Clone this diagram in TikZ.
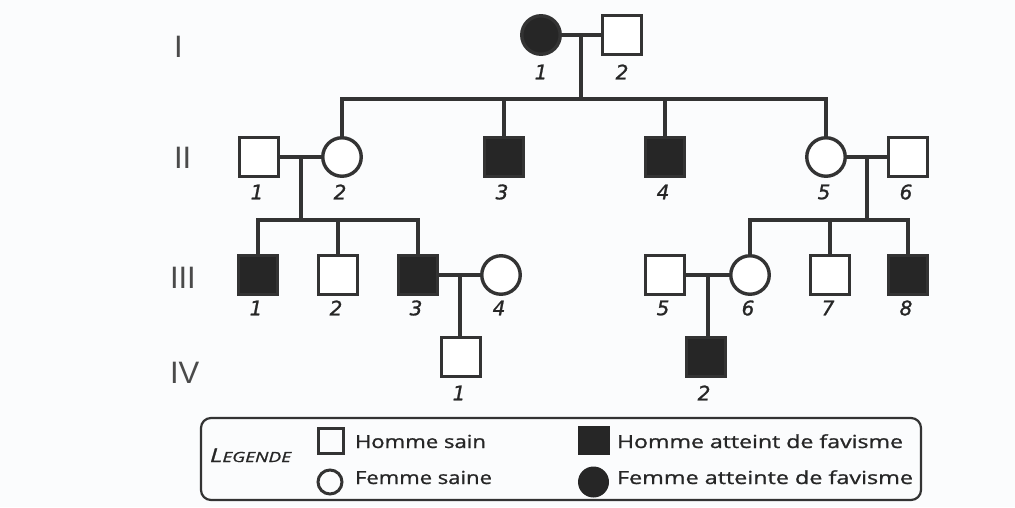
\documentclass[tikz,border=0pt]{standalone}
\usepackage{fontspec}
\usepackage{graphicx}
\newfontfamily\numfont{DejaVu Sans}[FakeBold=1.2]
\newfontfamily\genfont{Liberation Sans}
\newfontfamily\legfont{Open Sans}[FakeBold=1.0]
\usetikzlibrary{calc}
\definecolor{ink}{HTML}{333333}
\definecolor{dark}{HTML}{262626}
\definecolor{bg}{HTML}{FBFCFD}
\definecolor{gen}{HTML}{4A4A4A}
\begin{document}
\begin{tikzpicture}[x=1pt,y=-1pt,
  every node/.style={inner sep=0pt, outer sep=0pt},
  link/.style={draw=ink, line width=3.6pt, line join=miter},
  male/.style={rectangle, draw=ink, line width=3.4pt, minimum size=39.5pt, fill=white},
  female/.style={circle, draw=ink, line width=3.4pt, minimum size=38.5pt, fill=white},
  affected/.style={fill=dark},
  num/.style={font=\numfont\itshape\fontsize{20}{20}\selectfont, text=dark},
  genlab/.style={anchor=base west, font=\genfont\fontsize{31}{31}\selectfont, text=gen},
  legtext/.style={anchor=base west, font=\legfont\fontsize{18}{18}\selectfont, text=dark}
]
\fill[bg] (0,0) rectangle (1015,507);
\useasboundingbox (0,0) rectangle (1015,507);

% generation labels
\node[genlab] (gI) at (174,57) {I};
\node[genlab] (gII) at (174,168) {II};
\node[genlab] (gIII) at (170,288) {III};
\node[genlab] (gIV) at (170,383) {IV};

% generation I
\node[female,affected] (I1) at (541,35) {};
\node[male] (I2) at (622,35) {};
% generation II
\node[male] (II1) at (259,157) {};
\node[female] (II2) at (342,157) {};
\node[male,affected] (II3) at (504,157) {};
\node[male,affected] (II4) at (665,157) {};
\node[female] (II5) at (826,157) {};
\node[male] (II6) at (908,157) {};
% generation III
\node[male,affected] (III1) at (258,275) {};
\node[male] (III2) at (338,275) {};
\node[male,affected] (III3) at (418,275) {};
\node[female] (III4) at (501,275) {};
\node[male] (III5) at (665,275) {};
\node[female] (III6) at (750,275) {};
\node[male] (III7) at (830,275) {};
\node[male,affected] (III8) at (908,275) {};
% generation IV
\node[male] (IV1) at (461,357) {};
\node[male,affected] (IV2) at (706,357) {};

% labels
\node[num] (lI1) at (541,72) {1};
\node[num] (lI2) at (622,72) {2};
\node[num] (lII1) at (257,192) {1};
\node[num] (lII2) at (340,192) {2};
\node[num] (lII3) at (502,192) {3};
\node[num] (lII4) at (663,192) {4};
\node[num] (lII5) at (824,192) {5};
\node[num] (lII6) at (906,192) {6};
\node[num] (lIII1) at (256,308) {1};
\node[num] (lIII2) at (336,308) {2};
\node[num] (lIII3) at (416,308) {3};
\node[num] (lIII4) at (499,308) {4};
\node[num] (lIII5) at (663,308) {5};
\node[num] (lIII6) at (748,308) {6};
\node[num] (lIII7) at (828,308) {7};
\node[num] (lIII8) at (906,308) {8};
\node[num] (lIV1) at (459,393) {1};
\node[num] (lIV2) at (704,393) {2};

% marriages and descents
\coordinate (m1) at ($(I1.east)!0.5!(I2.west)$);
\coordinate (s1) at (582,99);
\draw[link] (I1.east) -- (I2.west);
\draw[link] (m1) -- (m1 |- s1);
\draw[link] (II2.north) -- (II2.north |- s1) -- (II5.north |- s1) -- (II5.north);
\draw[link] (II3.north) -- (II3.north |- s1);
\draw[link] (II4.north) -- (II4.north |- s1);

\coordinate (m2) at ($(II1.east)!0.5!(II2.west)$);
\coordinate (s2) at (302,220);
\draw[link] (II1.east) -- (II2.west);
\draw[link] (m2) -- (m2 |- s2);
\draw[link] (III1.north) -- (III1.north |- s2) -- (III3.north |- s2) -- (III3.north);
\draw[link] (III2.north) -- (III2.north |- s2);

\coordinate (m3) at ($(II5.east)!0.5!(II6.west)$);
\coordinate (s3) at (867,220);
\draw[link] (II5.east) -- (II6.west);
\draw[link] (m3) -- (m3 |- s3);
\draw[link] (III6.north) -- (III6.north |- s3) -- (III8.north |- s3) -- (III8.north);
\draw[link] (III7.north) -- (III7.north |- s3);

\coordinate (m4) at ($(III3.east)!0.5!(III4.west)$);
\draw[link] (III3.east) -- (III4.west);
\draw[link] (m4) -- (m4 |- IV1.north) -- (IV1.north);

\coordinate (m5) at ($(III5.east)!0.5!(III6.west)$);
\draw[link] (III5.east) -- (III6.west);
\draw[link] (m5) -- (m5 |- IV2.north) -- (IV2.north);

% legend
\node[draw=ink, line width=2.2pt, rounded corners=10pt, minimum width=720pt, minimum height=82pt] (leg) at (561,459) {};
\node[anchor=base west, font=\legfont\itshape, text=dark] (legt) at (210,462)
  {\resizebox{81pt}{\height}{{\fontsize{19}{19}\selectfont L}{\fontsize{14}{14}\selectfont EGENDE}}};
\node[rectangle, draw=ink, line width=3pt, minimum size=25pt] (k1) at (330.5,440.5) {};
\node[circle, draw=ink, line width=3pt, minimum size=24pt] (k2) at (330,482) {};
\node[rectangle, fill=dark, minimum width=32pt, minimum height=29pt] (k3) at (594,440.5) {};
\node[circle, fill=dark, minimum size=31pt] (k4) at (593.5,482) {};
\node[legtext] (t1) at (355,448) {\resizebox{131pt}{\height}{Homme sain}};
\node[legtext] (t2) at (355,484) {\resizebox{137pt}{\height}{Femme saine}};
\node[legtext] (t3) at (617,448) {\resizebox{286pt}{\height}{Homme atteint de favisme}};
\node[legtext] (t4) at (617,484) {\resizebox{296pt}{\height}{Femme atteinte de favisme}};
\end{tikzpicture}
\end{document}
